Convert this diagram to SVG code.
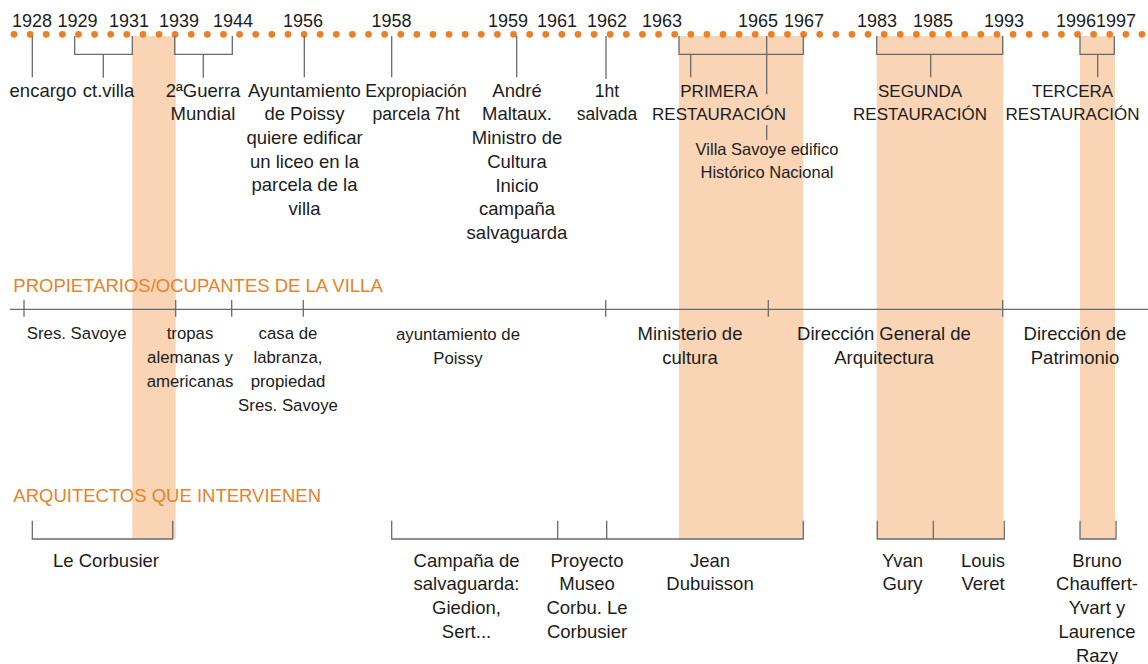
<svg xmlns="http://www.w3.org/2000/svg" width="1148" height="664" viewBox="0 0 1148 664">
<style>
text{font-family:"Liberation Sans",Arial,sans-serif;fill:#1c1c1c;font-size:18.5px;text-anchor:middle}
.yr{font-size:18px}
.ttl{fill:#E8822A;text-anchor:start}
.sm{font-size:16.8px}
.caps{font-size:17px}
.band{fill:#F9D5B6}
.ln{stroke:#6a6a6a;stroke-width:1.3;fill:none}
</style>
<rect width="1148" height="664" fill="#fff"/>
<g id="bands">
<rect class="band" x="132.3" y="36" width="43.4" height="503"/>
<rect class="band" x="679" y="36" width="124.3" height="503"/>
<rect class="band" x="876.7" y="36" width="126.6" height="503"/>
<rect class="band" x="1080" y="36" width="35" height="503"/>
</g>
<g id="timeline">
<line x1="14" y1="34.3" x2="1142" y2="34.3" stroke="#EE7F23" stroke-width="6.8" stroke-linecap="round" stroke-dasharray="0 16.114"/>
</g>
<g id="years" class="yr">
<text class="yr" x="32" y="27">1928</text>
<text class="yr" x="77.5" y="27">1929</text>
<text class="yr" x="129" y="27">1931</text>
<text class="yr" x="179" y="27">1939</text>
<text class="yr" x="233" y="27">1944</text>
<text class="yr" x="303" y="27">1956</text>
<text class="yr" x="391.5" y="27">1958</text>
<text class="yr" x="508" y="27">1959</text>
<text class="yr" x="557" y="27">1961</text>
<text class="yr" x="607" y="27">1962</text>
<text class="yr" x="662" y="27">1963</text>
<text class="yr" x="758" y="27">1965</text>
<text class="yr" x="804" y="27">1967</text>
<text class="yr" x="877" y="27">1983</text>
<text class="yr" x="933" y="27">1985</text>
<text class="yr" x="1004" y="27">1993</text>
<text class="yr" x="1076" y="27">1996</text>
<text class="yr" x="1116" y="27">1997</text>
</g>
<g id="connectors" class="ln">
<path class="ln" d="M32.3 36V77.3"/>
<path class="ln" d="M74.7 36V54.3H132.3V36M103.3 54.3V77.7"/>
<path class="ln" d="M174.7 36V54.3H232.3V36M203.3 54.3V77.7"/>
<path class="ln" d="M304.3 36V77.3"/>
<path class="ln" d="M391.7 36V77.3"/>
<path class="ln" d="M516.7 36V77.3"/>
<path class="ln" d="M606 36V79"/>
<path class="ln" d="M679 36V54.3H803.3V36M690.7 54.3V77.3"/>
<path class="ln" d="M766.7 36V94.3M766.7 125V140"/>
<path class="ln" d="M876.7 36V54.3H1002.7V36M930.7 54.3V77.3"/>
<path class="ln" d="M1080 36V54.3H1114.3V36M1097.7 54.3V77.3"/>
<path class="ln" d="M10 309.3H1148M24 300V316.7M175.7 300V316.7M231.7 300V316.7M303.3 300V316.7M605.7 300V316.7M768.3 300V316.7M1002.7 300V316.7"/>
<path class="ln" d="M32.3 520.7V539H172.7V520.7"/>
<path class="ln" d="M391.7 520.7V539H803.3V520.7M557.7 520.7V539M606.7 520.7V539"/>
<path class="ln" d="M877.3 520.7V539H1004.3V520.7M933.3 520.7V539"/>
<path class="ln" d="M1080 520.7V539H1116V520.7"/>
</g>
<g id="ev-encargo"><text x="43" y="96.7">encargo</text></g>
<g id="ev-ctvilla"><text x="108.5" y="96.7">ct.villa</text></g>
<g id="ev-guerra"><text x="203" y="96.7">2ªGuerra<tspan x="203" dy="23.5">Mundial</tspan></text></g>
<g id="ev-ayuntamiento"><text x="304.5" y="96.7">Ayuntamiento<tspan x="304.5" dy="23.6">de Poissy</tspan><tspan x="304.5" dy="23.6">quiere edificar</tspan><tspan x="304.5" dy="23.6">un liceo en la</tspan><tspan x="304.5" dy="23.6">parcela de la</tspan><tspan x="304.5" dy="23.6">villa</tspan></text></g>
<g id="ev-expropiacion"><text x="416" y="96.7" style="font-size:17.6px">Expropiación<tspan x="416" dy="23.5">parcela 7ht</tspan></text></g>
<g id="ev-andre"><text x="517" y="96.7">André<tspan x="517" dy="23.7">Maltaux.</tspan><tspan x="517" dy="23.7">Ministro de</tspan><tspan x="517" dy="23.7">Cultura</tspan><tspan x="517" dy="23.7">Inicio</tspan><tspan x="517" dy="23.7">campaña</tspan><tspan x="517" dy="23.7">salvaguarda</tspan></text></g>
<g id="ev-1ht"><text x="607" y="96.7" style="font-size:17.5px">1ht<tspan x="607" dy="23.5">salvada</tspan></text></g>
<g id="ev-primera"><text class="caps" x="719" y="96.7">PRIMERA<tspan x="719" dy="23.5">RESTAURACIÓN</tspan></text></g>
<g id="ev-villa"><text x="767" y="155" style="font-size:16.5px">Villa Savoye edifico<tspan x="767" dy="23.3">Histórico Nacional</tspan></text></g>
<g id="ev-segunda"><text class="caps" x="920" y="96.7">SEGUNDA<tspan x="920" dy="23.5">RESTAURACIÓN</tspan></text></g>
<g id="ev-tercera"><text class="caps" x="1072.5" y="96.7">TERCERA<tspan x="1072.5" dy="23.5">RESTAURACIÓN</tspan></text></g>
<g id="title-propietarios"><text class="ttl" x="13.3" y="291.7">PROPIETARIOS/OCUPANTES DE LA VILLA</text></g>
<g id="ow-savoye"><text class="sm" x="76.7" y="338.5">Sres. Savoye</text></g>
<g id="ow-tropas"><text class="sm" x="190" y="338.5">tropas<tspan x="190" dy="24">alemanas y</tspan><tspan x="190" dy="24">americanas</tspan></text></g>
<g id="ow-casa"><text class="sm" x="288" y="338.5">casa de<tspan x="288" dy="24">labranza,</tspan><tspan x="288" dy="24">propiedad</tspan><tspan x="288" dy="24">Sres. Savoye</tspan></text></g>
<g id="ow-ayuntamiento"><text class="sm" x="458" y="340">ayuntamiento de<tspan x="458" dy="23.5">Poissy</tspan></text></g>
<g id="ow-ministerio"><text x="690" y="340">Ministerio de<tspan x="690" dy="23.5">cultura</tspan></text></g>
<g id="ow-direccion-general"><text x="884" y="340">Dirección General de<tspan x="884" dy="23.5">Arquitectura</tspan></text></g>
<g id="ow-patrimonio"><text x="1075" y="340">Dirección de<tspan x="1075" dy="23.5">Patrimonio</tspan></text></g>
<g id="title-arquitectos"><text class="ttl" x="13.3" y="502.3">ARQUITECTOS QUE INTERVIENEN</text></g>
<g id="ar-corbusier"><text x="106" y="567">Le Corbusier</text></g>
<g id="ar-campana"><text x="466.5" y="566.7">Campaña de<tspan x="466.5" dy="23.7">salvaguarda:</tspan><tspan x="466.5" dy="23.7">Giedion,</tspan><tspan x="466.5" dy="23.7">Sert...</tspan></text></g>
<g id="ar-proyecto"><text x="587" y="566.7">Proyecto<tspan x="587" dy="23.7">Museo</tspan><tspan x="587" dy="23.7">Corbu. Le</tspan><tspan x="587" dy="23.7">Corbusier</tspan></text></g>
<g id="ar-dubuisson"><text x="710" y="566.7">Jean<tspan x="710" dy="23.7">Dubuisson</tspan></text></g>
<g id="ar-gury"><text x="902.5" y="566.7">Yvan<tspan x="902.5" dy="23.7">Gury</tspan></text></g>
<g id="ar-veret"><text x="983" y="566.7">Louis<tspan x="983" dy="23.7">Veret</tspan></text></g>
<g id="ar-chauffert"><text x="1097" y="566.7">Bruno<tspan x="1097" dy="23.7">Chauffert-</tspan><tspan x="1097" dy="23.7">Yvart y</tspan><tspan x="1097" dy="23.7">Laurence</tspan><tspan x="1097" dy="23.7">Razy</tspan></text></g>
</svg>
